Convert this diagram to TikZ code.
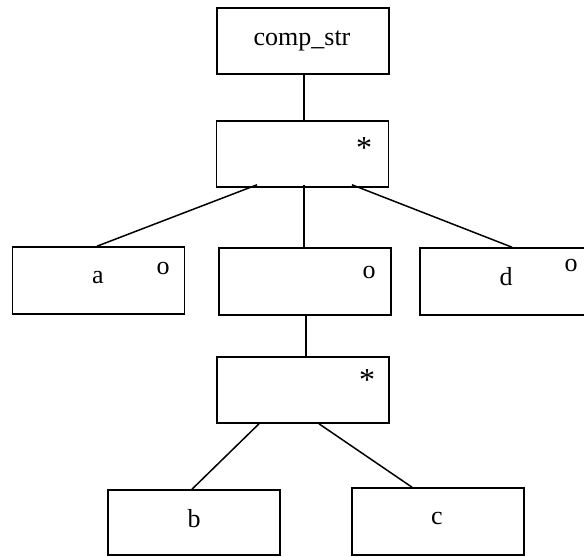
\documentclass[tikz,border=0pt]{standalone}
\usepackage{fontspec}
\setmainfont{Liberation Serif}
\begin{document}
\begin{tikzpicture}[x=1pt,y=-1pt,
  box/.style={draw=black,line width=1.6pt,rectangle,inner sep=0pt,minimum width=172pt,minimum height=66pt},
  txt/.style={inner sep=0pt,anchor=base,font=\fontsize{26}{30}\selectfont},
  startxt/.style={inner sep=0pt,anchor=base,font=\fontsize{32}{36}\selectfont},
  conn/.style={line width=1.5pt}]
\clip (0,0) rectangle (584,557);
\fill[white] (0,0) rectangle (584,557);
% boxes
\node[box] (comp) at (303,41) {};
\node[box] (star1) at (302.5,154) {};
\node[box,minimum height=67pt] (a) at (98.5,280.5) {};
\node[box,minimum height=67pt] (mid) at (305,281.5) {};
\node[box,minimum height=67pt] (d) at (506,281.5) {};
\node[box] (star2) at (303,390) {};
\node[box,minimum height=65pt] (b) at (194,522.5) {};
\node[box,minimum height=67pt] (c) at (438,521.5) {};
% texts
\node[txt] (tcomp) at (302,45) {comp\_str};
\node[startxt] (tstar1) at (364,158) {*};
\node[txt] (ta) at (98,283) {a};
\node[txt] (toa) at (163,274) {o};
\node[txt] (tom) at (369,278) {o};
\node[txt] (td) at (506,285) {d};
\node[txt] (tod) at (571,271) {o};
\node[startxt] (tstar2) at (367,390) {*};
\node[txt] (tb) at (194,527) {b};
\node[txt] (tc) at (437,524) {c};
% connectors
\draw[conn] (comp.south -| 304,0) -- (star1.north -| 304,0);
\draw[conn] ([yshift=3pt]star1.south -| 257,0) -- (a.north -| 97,0);
\draw[conn] ([yshift=3pt]star1.south -| 304,0) -- (mid.north -| 304,0);
\draw[conn] ([yshift=3pt]star1.south -| 352,0) -- (d.north -| 512,0);
\draw[conn] (mid.south -| 306,0) -- (star2.north -| 306,0);
\draw[conn] (star2.south -| 259,0) -- (b.north -| 192,0);
\draw[conn] (star2.south -| 319,0) -- (c.north -| 412,0);
\end{tikzpicture}
\end{document}
